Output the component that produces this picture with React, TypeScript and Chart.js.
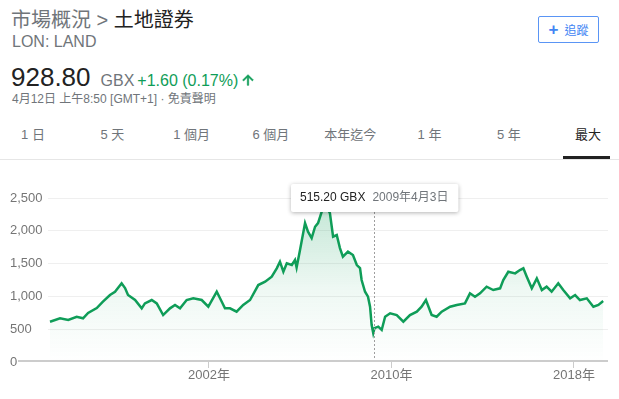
import React, { useEffect, useRef } from "react";
import { Chart, registerables } from "chart.js";

Chart.register(...registerables);

const FONT = '"Liberation Sans", "Noto Sans CJK TC", Arial, sans-serif';

// ---- data ----
const years = [
  1995.03, 1995.47, 1995.83, 1996.2, 1996.48, 1996.7, 1997.08, 1997.35, 1997.66, 1997.88,
  1998.17, 1998.32, 1998.45, 1998.76, 1999.05, 1999.19, 1999.49, 1999.71, 1999.99, 2000.29,
  2000.51, 2000.73, 2001.02, 2001.31, 2001.68, 2001.97, 2002.34, 2002.56, 2002.7, 2002.92,
  2003.21, 2003.5, 2003.8, 2004.16, 2004.46, 2004.75, 2004.97, 2005.11, 2005.26, 2005.41,
  2005.63, 2005.77, 2005.84, 2005.99, 2006.21, 2006.34, 2006.5, 2006.65, 2006.78, 2006.94,
  2007.1, 2007.3, 2007.44, 2007.6, 2007.74, 2007.87, 2008.09, 2008.31, 2008.48, 2008.62,
  2008.69, 2008.84, 2008.97, 2009.06, 2009.13, 2009.2, 2009.254, 2009.42, 2009.57, 2009.72,
  2009.94, 2010.23, 2010.52, 2010.81, 2011.11, 2011.32, 2011.51, 2011.76, 2011.98, 2012.2,
  2012.57, 2012.86, 2013.22, 2013.44, 2013.66, 2013.88, 2014.17, 2014.46, 2014.76, 2014.9,
  2015.12, 2015.42, 2015.63, 2015.78, 2015.93, 2016.15, 2016.37, 2016.59, 2016.8, 2017.02,
  2017.31, 2017.53, 2017.83, 2018.05, 2018.26, 2018.56, 2018.85, 2019.07, 2019.24, 2019.28,
];
const prices = [
  614, 666, 640, 690, 666, 747, 823, 919, 1021, 1071,
  1199, 1128, 1021, 945, 818, 894, 945, 894, 716, 818,
  869, 818, 945, 971, 945, 843, 1071, 919, 818, 818,
  767, 869, 945, 1173, 1224, 1300, 1428, 1529, 1376, 1504,
  1478, 1554, 1440, 1707, 2118, 1986, 1890, 2062, 2118, 2290,
  2400, 2270, 1910, 1935, 1737, 1605, 1681, 1630, 1478, 1433,
  1250, 1071, 995, 843, 564, 442, 515.2, 538, 488, 690,
  742, 716, 614, 716, 767, 843, 945, 716, 690, 767,
  843, 869, 894, 1047, 995, 1047, 1148, 1097, 1123, 1250,
  1376, 1351, 1402, 1428, 1300, 1123, 1275, 1097, 1148, 1071,
  1199, 1097, 971, 1021, 945, 971, 843, 869, 919, 928.8,
];
const yTickValues = [0, 500, 1000, 1500, 2000, 2500];
const xTickYears = [2002, 2010, 2018];
const xTickSuffix = "年";
const xMin = 1994.9425;
const xMax = 2019.4905;

const tooltipYear = 2009.254;
const tooltipLabel = "515.20 GBX";
const tooltipDate = "2009年4月3日";

const tabs = ["1 日", "5 天", "1 個月", "6 個月", "本年迄今", "1 年", "5 年", "最大"];

const GREEN = "#0f9d58";
const GRAY = "#70757a";

const overlayPlugin = {
  id: "overlay",
  afterDatasetsDraw(chart: any) {
    const { ctx, chartArea, scales } = chart;
    const y0 = scales.y.getPixelForValue(0);
    ctx.save();
    // baseline
    ctx.strokeStyle = "#cccccc";
    ctx.lineWidth = 2;
    ctx.beginPath();
    ctx.moveTo(18, y0 - 1);
    ctx.lineTo(chartArea.right, y0 - 1);
    ctx.stroke();

    // tooltip
    const x = Math.round(scales.x.getPixelForValue(tooltipYear)) + 0.5;
    ctx.font = `12px ${FONT}`;
    const w1 = ctx.measureText(tooltipLabel).width;
    const w2 = ctx.measureText(tooltipDate).width;
    const gap = 7, padL = 9, padR = 10;
    const boxW = padL + w1 + gap + w2 + padR;
    const boxH = 28;
    const boxTop = chartArea.top - 14;
    const boxL = Math.round(x - boxW / 2);

    ctx.setLineDash([2, 2]);
    ctx.strokeStyle = "#9e9e9e";
    ctx.lineWidth = 1;
    ctx.beginPath();
    ctx.moveTo(x, boxTop + boxH);
    ctx.lineTo(x, y0 - 2);
    ctx.stroke();
    ctx.setLineDash([]);

    ctx.shadowColor = "rgba(0,0,0,0.3)";
    ctx.shadowBlur = 4;
    ctx.shadowOffsetY = 1;
    ctx.fillStyle = "#ffffff";
    ctx.beginPath();
    (ctx as any).roundRect(boxL, boxTop, boxW, boxH, 2);
    ctx.fill();
    ctx.shadowColor = "transparent";
    ctx.shadowBlur = 0;
    ctx.shadowOffsetY = 0;

    ctx.textBaseline = "middle";
    ctx.textAlign = "left";
    ctx.fillStyle = "#222222";
    ctx.fillText(tooltipLabel, boxL + padL, boxTop + boxH / 2);
    ctx.fillStyle = GRAY;
    ctx.fillText(tooltipDate, boxL + padL + w1 + gap, boxTop + boxH / 2);
    ctx.restore();
  },
};

function StockChart() {
  const ref = useRef<HTMLCanvasElement>(null);
  useEffect(() => {
    if (!ref.current) return;
    Chart.defaults.font.family = FONT;
    const chart = new Chart(ref.current, {
      type: "line",
      data: {
        datasets: [
          {
            data: years.map((x, i) => ({ x, y: prices[i] })),
            borderColor: GREEN,
            borderWidth: 2.5,
            pointRadius: 0,
            tension: 0,
            fill: "origin",
            backgroundColor: (context: any) => {
              const ca = context.chart.chartArea;
              if (!ca) return "rgba(15,157,88,0.1)";
              const g = context.chart.ctx.createLinearGradient(0, ca.top, 0, ca.bottom);
              g.addColorStop(0, "rgba(15,157,88,0.26)");
              g.addColorStop(0.55, "rgba(15,157,88,0.07)");
              g.addColorStop(1, "rgba(15,157,88,0)");
              return g;
            },
          },
        ],
      },
      options: {
        responsive: false,
        animation: false,
        devicePixelRatio: 1,
        layout: { padding: { top: 28, left: 10, right: 11, bottom: 0 } },
        plugins: { legend: { display: false }, tooltip: { enabled: false } },
        scales: {
          x: {
            type: "linear",
            min: xMin,
            max: xMax,
            afterBuildTicks: (s: any) => {
              s.ticks = xTickYears.map((v) => ({ value: v }));
            },
            afterFit: (s: any) => {
              s.height = 37;
            },
            ticks: {
              callback: (v: any) => `${v}${xTickSuffix}`,
              color: "#757575",
              font: { size: 13, family: FONT },
              padding: 0,
              maxRotation: 0,
              autoSkip: false,
            },
            grid: {
              drawOnChartArea: false,
              drawTicks: true,
              tickLength: 6,
              color: "#cccccc",
            },
            border: { display: false },
          },
          y: {
            position: "left",
            min: 0,
            max: 2500,
            afterBuildTicks: (s: any) => {
              s.ticks = yTickValues.map((v) => ({ value: v }));
            },
            afterFit: (s: any) => {
              s.width = 38;
            },
            ticks: {
              callback: (v: any) => Number(v).toLocaleString("en-US"),
              color: "#757575",
              font: { size: 13, family: FONT },
              crossAlign: "far",
              padding: 6,
            },
            grid: {
              color: (c: any) => (c.tick && c.tick.value === 0 ? "rgba(0,0,0,0)" : "#efefef"),
              drawTicks: false,
              lineWidth: 1,
            },
            border: { display: false },
          },
        },
      },
      plugins: [overlayPlugin],
    } as any);
    return () => chart.destroy();
  }, []);
  return (
    <canvas
      ref={ref}
      width={619}
      height={229}
      style={{ position: "absolute", left: 0, top: 170, width: 619, height: 229 }}
    />
  );
}

export default function App() {
  return (
    <div
      style={{
        position: "absolute",
        left: 0,
        top: 0,
        width: 619,
        height: 399,
        overflow: "hidden",
        background: "#fff",
        fontFamily: FONT,
      }}
    >
      <div style={{ position: "absolute", left: 11, top: 10, fontSize: 20, lineHeight: "20px", color: GRAY, whiteSpace: "nowrap" }}>
        市場概況 &gt; <span style={{ color: "#222" }}>土地證券</span>
      </div>
      <div style={{ position: "absolute", left: 12, top: 34, fontSize: 16, lineHeight: "16px", color: GRAY, whiteSpace: "nowrap" }}>
        LON: LAND
      </div>
      <div style={{ position: "absolute", left: 11, top: 62, lineHeight: "30px", whiteSpace: "nowrap" }}>
        <span style={{ fontSize: 26, color: "#222" }}>928.80</span>
        <span style={{ fontSize: 16, color: GRAY, marginLeft: 10 }}>GBX</span>
        <span style={{ fontSize: 16, color: GREEN, marginLeft: 3 }}>+1.60 (0.17%)</span>
      </div>
      <svg style={{ position: "absolute", left: 240, top: 72 }} width={16} height={16} viewBox="0 0 24 24">
        <path fill={GREEN} stroke={GREEN} strokeWidth={1} d="M4 12l1.41 1.41L11 7.83V20h2V7.83l5.58 5.59L20 12l-8-8-8 8z" />
      </svg>
      <div style={{ position: "absolute", left: 12, top: 93, fontSize: 12, lineHeight: "12px", color: GRAY, whiteSpace: "nowrap" }}>
        4月12日 上午8:50 [GMT+1] · 免責聲明
      </div>

      <div
        style={{
          position: "absolute",
          left: 538,
          top: 16,
          width: 59,
          height: 25,
          border: "1px solid #5a95f5",
          borderRadius: 2,
          color: "#4285f4",
          display: "flex",
          alignItems: "center",
          justifyContent: "center",
          fontSize: 12,
        }}
      >
        <span style={{ fontSize: 17, fontWeight: "bold", marginRight: 6, lineHeight: "17px" }}>+</span>
        <span>追蹤</span>
      </div>

      {tabs.map((t, i) => (
        <div
          key={t}
          style={{
            position: "absolute",
            left: 33 + i * 79.3 - 40,
            width: 80,
            top: 127,
            lineHeight: "16px",
            fontSize: 13,
            textAlign: "center",
            color: i === tabs.length - 1 ? "#222" : GRAY,
            whiteSpace: "nowrap",
          }}
        >
          {t}
        </div>
      ))}
      <div style={{ position: "absolute", left: 0, top: 159, width: 619, height: 1, background: "#e6e6e6" }} />
      <div style={{ position: "absolute", left: 563, top: 156, width: 47, height: 3, background: "#222" }} />

      <StockChart />
    </div>
  );
}
